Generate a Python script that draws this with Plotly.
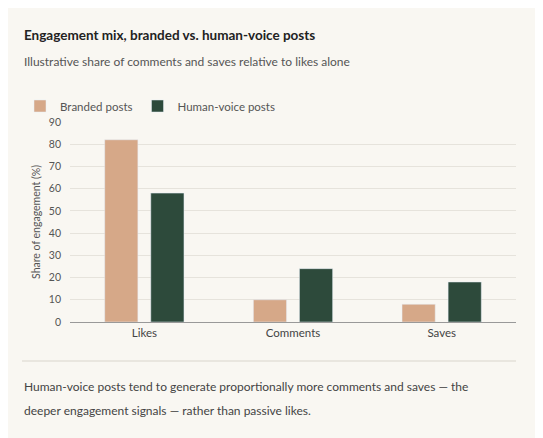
import plotly.graph_objects as go

categories = ["Likes", "Comments", "Saves"]
branded = [82, 10, 8]
human = [58, 24, 18]

W, H = 543, 438
OX, OY = 10, 8  # page offset compensation
L, T = 72 - OX, 122 - OY
pw, ph = 446, 200
R = W - L - pw
B = H - T - ph
def px(x): return (x - OX - L) / pw
def py(y): return (H - B - (y - OY)) / ph

font = "Lato, 'Open Sans', sans-serif"
fig = go.Figure()
fig.add_bar(x=categories, y=branded, name="Branded posts", marker_color="#d6a888")
fig.add_bar(x=categories, y=human, name="Human-voice posts", marker_color="#2d4a3b")

fig.update_layout(
    width=W, height=H, margin=dict(l=L, r=R, t=T, b=B),
    paper_bgcolor="#f9f7f2", plot_bgcolor="#f9f7f2",
    font=dict(family=font, color="#444", size=11),
    barmode="group", bargap=0.38, bargroupgap=0.28,
    showlegend=True,
    legend=dict(orientation="h", x=px(22), y=py(106), xanchor="left", yanchor="middle",
                font=dict(size=11.5, color="#555"), bgcolor="rgba(0,0,0,0)",
                itemwidth=30, tracegroupgap=0),
    xaxis=dict(showgrid=False, showline=True, linecolor="#999", ticks="",
               tickfont=dict(size=11.5, color="#444")),
    yaxis=dict(range=[0, 90], dtick=10, gridcolor="#e6e3dc", zeroline=False,
               showline=False, ticks="", ticklabelstandoff=8,
               title=dict(text="Share of engagement (%)", font=dict(size=10.5, color="#555"), standoff=6),
               tickfont=dict(size=10.5, color="#555")),
)
fig.add_annotation(text="<b>Engagement mix, branded vs. human-voice posts</b>", xref="paper", yref="paper",
                   x=px(24), y=py(35), xanchor="left", yanchor="middle", showarrow=False,
                   font=dict(size=13.5, color="#222"))
fig.add_annotation(text="Illustrative share of comments and saves relative to likes alone", xref="paper", yref="paper",
                   x=px(24), y=py(62), xanchor="left", yanchor="middle", showarrow=False,
                   font=dict(size=12, color="#555"))
fig.add_shape(type="line", xref="paper", yref="paper", x0=px(24), x1=px(518), y0=py(361), y1=py(361),
              line=dict(color="#d9d5cc", width=1))
for txt, yy in [("Human-voice posts tend to generate proportionally more comments and saves — the", 386),
                ("deeper engagement signals — rather than passive likes.", 410)]:
    fig.add_annotation(text=txt, xref="paper", yref="paper", x=px(24), y=py(yy), xanchor="left",
                       yanchor="middle", showarrow=False, font=dict(size=12, color="#444"))
fig.write_html("out.html")
